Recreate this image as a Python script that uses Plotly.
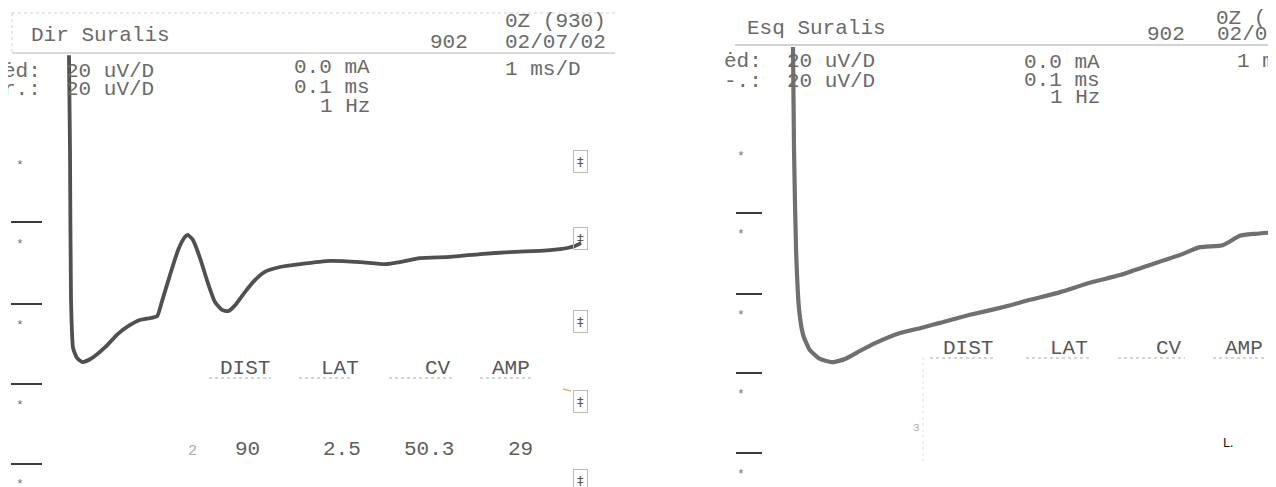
import plotly.graph_objects as go

# ---- data: time (ms) and amplitude (uV) of the two sural nerve traces ----
left_t = [-0.02, 0.00, 0.02, 0.06, 0.14, 0.25, 0.43, 0.69, 0.94, 1.14, 1.37, 1.57, 1.71,
          1.80, 1.96, 2.12, 2.24, 2.31, 2.41, 2.55, 2.71, 2.84, 2.98, 3.10, 3.24, 3.43,
          3.63, 3.82, 4.12, 4.51, 5.10, 5.69, 6.18, 6.47, 6.86, 7.45, 8.04, 8.63, 9.22,
          9.61, 9.90, 10.02]
left_uv = [48.1, 24.7, -12.3, -24.2, -26.7, -27.7, -26.7, -24.0, -20.7, -18.8, -17.3, -16.8,
           -16.3, -12.8, -6.2, 0.0, 3.0, 3.7, 2.5, -2.0, -8.4, -12.8, -14.8, -15.1, -13.6,
           -10.4, -7.4, -5.4, -4.2, -3.5, -2.7, -3.0, -3.5, -3.0, -2.0, -1.7, -1.0, -0.5,
           -0.2, 0.2, 1.0, 1.7]

right_t = [0.00, 0.02, 0.06, 0.12, 0.20, 0.33, 0.53, 0.78, 1.02, 1.27, 1.61, 2.10, 2.49,
           2.88, 3.47, 4.06, 4.65, 5.24, 5.82, 6.41, 7.00, 7.59, 7.98, 8.43, 8.76, 9.06, 9.47]
right_uv = [50.1, 24.7, 0.0, -14.8, -21.0, -24.7, -26.9, -27.7, -26.9, -25.2, -23.0, -20.5,
            -19.3, -18.0, -16.0, -14.3, -12.3, -10.4, -8.1, -6.2, -3.7, -1.2, 0.7, 1.2, 3.5,
            4.0, 4.4]

# ---- text content ----
NB = "\u00a0"
left_title = "Dir Suralis"
right_title = "Esq Suralis"
header_code = "902"
left_date = "02/07/02"
right_date = "02/0"
left_oz = "0Z (930)"
right_oz = "0Z ("
gain_labels = ["ėd:" + NB * 2 + "20 uV/D", "r.:" + NB * 2 + "20 uV/D"]
right_gain_labels = ["ėd:" + NB * 2 + "20 uV/D", "-.:" + NB * 2 + "20 uV/D"]
stim_labels = ["0.0 mA", "0.1 ms", "1 Hz"]
left_sweep = "1 ms/D"
right_sweep = "1 m"
table_headers = ["DIST", "LAT", "CV", "AMP"]
left_values = ["90", "2.5", "50.3", "29"]

# ---- page geometry (reference pixels; page body has an 8px margin) ----
OFF = 8
W, H = 1276 - OFF, 487 - OFF
PX_MS = 51.0     # pixels per ms
PX_UV = 4.05     # pixels per uV
Y0 = 250         # pixel row of 0 uV
LX0 = 70         # pixel column of stimulus, left trace
RX0 = 793        # pixel column of stimulus, right trace

INK = "#6a6a6a"
FONT = "Liberation Mono"
FS = 21

fig = go.Figure()
fig.add_trace(go.Scatter(x=left_t, y=left_uv, xaxis="x", yaxis="y", mode="lines",
                         line=dict(color="#505050", width=3.8, shape="spline", smoothing=0.5),
                         hoverinfo="skip", showlegend=False))
fig.add_trace(go.Scatter(x=right_t, y=right_uv, xaxis="x2", yaxis="y", mode="lines",
                         line=dict(color="#707070", width=4.2, shape="spline", smoothing=0.5),
                         hoverinfo="skip", showlegend=False))


def px(x):
    return (x - OFF) / W


def py(y):
    return 1 - (y - OFF) / H


def ann(text, x, y, anchor="left", size=FS, color=INK, family=FONT, **kw):
    return dict(text=text, x=px(x), y=py(y), xref="paper", yref="paper", xanchor=anchor,
                yanchor="middle", showarrow=False, borderpad=0,
                font=dict(family=family, size=size, color=color), **kw)


anns = []
# left header
anns.append(ann(left_title, 30, 36))
anns.append(ann(left_oz, 607, 22, anchor="right"))
anns.append(ann(header_code, 429, 43))
anns.append(ann(left_date, 607, 43, anchor="right"))
anns.append(ann(gain_labels[0], 2, 71))
anns.append(ann(gain_labels[1], 2, 90))
for lab, yy in zip(stim_labels, [67, 87, 106]):
    anns.append(ann(lab, 371, yy, anchor="right"))
anns.append(ann(left_sweep, 504, 70))

# right header
anns.append(ann(right_title, 746, 29))
anns.append(ann(header_code, 1146, 34))
anns.append(ann(right_oz, 1215, 18))
anns.append(ann(right_date, 1216, 34))
anns.append(ann(right_gain_labels[0], 723, 62))
anns.append(ann(right_gain_labels[1], 723, 81))
for lab, yy in zip(stim_labels, [63, 80, 97]):
    anns.append(ann(lab, 1101, yy, anchor="right"))
anns.append(ann(right_sweep, 1236, 62))

# left table
for lab, xr in zip(table_headers, [271, 360, 452, 531]):
    anns.append(ann(lab, xr, 368, anchor="right", color="#585858"))
for val, xr in zip(left_values, [261, 362, 455, 534]):
    anns.append(ann(val, xr, 449, anchor="right", color="#606060"))
anns.append(ann("2", 192, 451, anchor="center", size=15, color="#aaaaaa"))

# right table
for lab, xr in zip(table_headers, [994, 1089, 1183, 1264]):
    anns.append(ann(lab, xr, 348, anchor="right", color="#585858"))
anns.append(ann("3", 916, 428, anchor="center", size=11, color="#aaaaaa"))
anns.append(ann("L.", 1222, 443, size=12, color="#111111", family="DejaVu Sans"))

# stars
for yy in [162, 241, 322, 402, 481]:
    anns.append(ann("*", 20, yy + 3, anchor="center", size=13, color="#777777"))
for yy in [153, 231, 312, 391, 471]:
    anns.append(ann("*", 741, yy + 3, anchor="center", size=13, color="#777777"))

# boxed markers on right of left panel
for yy in [161, 239, 321, 401, 480]:
    anns.append(dict(text="‡", x=px(580), y=py(yy), xref="paper", yref="paper",
                     xanchor="center", yanchor="middle", showarrow=False,
                     font=dict(family="DejaVu Sans", size=13, color="#555555"),
                     bordercolor="#bbbbbb", borderwidth=1, borderpad=3))

shapes = []


def line(x0, y0, x1, y1, color="#333333", width=2, dash="solid"):
    return dict(type="line", xref="paper", yref="paper", x0=px(x0), y0=py(y0),
                x1=px(x1), y1=py(y1), line=dict(color=color, width=width, dash=dash))


# left header box
shapes.append(line(12, 13, 615, 13, color="#d0d0d0", width=1, dash="dot"))
shapes.append(line(12, 53, 615, 53, color="#b8b8b8", width=1.2))
shapes.append(line(12, 13, 12, 53, color="#d0d0d0", width=1, dash="dot"))
# right header line
shapes.append(line(735, 45, 1276, 45, color="#a8a8a8", width=1.2))

# division bars
for yy in [222, 304, 384, 464]:
    shapes.append(line(11, yy, 42, yy, color="#3a3a3a", width=2))
for yy in [213, 294, 373, 453]:
    shapes.append(line(736, yy, 762, yy, color="#3a3a3a", width=2))

# table underlines
for x0, x1 in [(209, 271), (299, 353), (389, 453), (480, 532)]:
    shapes.append(line(x0, 378, x1, 378, color="#aaaaaa", width=1, dash="dot"))
for x0, x1 in [(930, 996), (1026, 1091), (1118, 1185), (1213, 1265)]:
    shapes.append(line(x0, 358, x1, 358, color="#aaaaaa", width=1, dash="dot"))
# faint vertical dotted line in right panel
shapes.append(line(923, 357, 923, 462, color="#e0e0e0", width=1, dash="dot"))
# small orange mark
shapes.append(line(563, 389, 571, 391, color="#e8b070", width=1.5))

fig.update_layout(
    width=W, height=H, margin=dict(l=0, r=0, t=0, b=0),
    paper_bgcolor="white", plot_bgcolor="white", showlegend=False,
    xaxis=dict(domain=[0, 1], range=[-(LX0 - OFF) / PX_MS, (W - (LX0 - OFF)) / PX_MS],
               visible=False, fixedrange=True),
    xaxis2=dict(domain=[0, 1], overlaying="x",
                range=[-(RX0 - OFF) / PX_MS, (W - (RX0 - OFF)) / PX_MS],
                visible=False, fixedrange=True),
    yaxis=dict(domain=[0, 1], range=[((Y0 - OFF) - H) / PX_UV, (Y0 - OFF) / PX_UV],
               visible=False, fixedrange=True),
    annotations=anns, shapes=shapes,
)

fig.write_html("out.html")
